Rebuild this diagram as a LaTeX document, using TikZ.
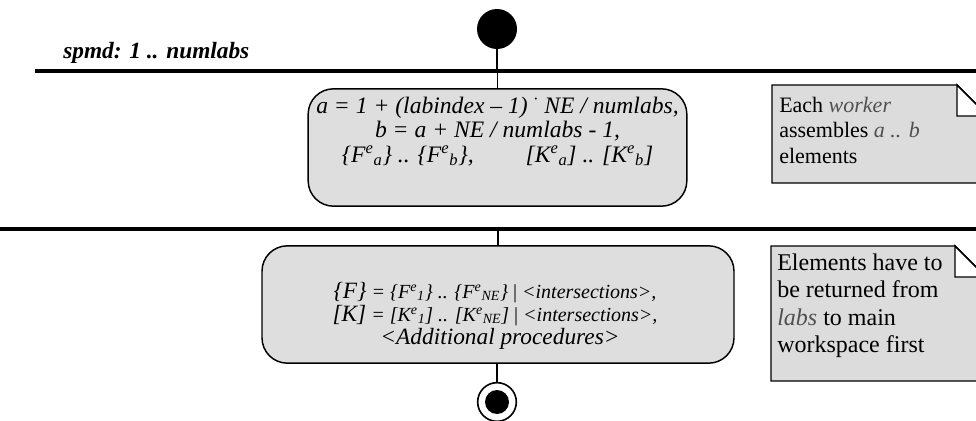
\documentclass[tikz,border=0pt]{standalone}
\usepackage{fontspec}
\setmainfont{Liberation Serif}
\definecolor{fillgray}{HTML}{DEDEDE}
\definecolor{notegray}{HTML}{DCDCDC}
\definecolor{softtext}{HTML}{505050}
\newcommand{\eS}[2]{#1\textsuperscript{e}\textsubscript{#2}}

\begin{document}
\begin{tikzpicture}[x=0.75pt,y=-0.75pt,
  bar/.style={line width=2.3pt},
  flow/.style={line width=1.1pt},
  action/.style={draw, line width=1.1pt, fill=fillgray, rounded corners=19pt,
                 inner sep=0pt},
  actionline/.style={anchor=base, inner sep=0pt, font=\fontsize{17.7}{20}\selectfont\itshape},
  mergeline/.style={anchor=base, inner sep=0pt, font=\fontsize{15}{17}\selectfont\itshape},
  note/.style={draw, line width=1.1pt, fill=notegray},
  notetext/.style={align=left, anchor=north west, inner sep=0pt},
]
\useasboundingbox (0,0) rectangle (976,421);

% swimlane bars
\coordinate (barA-l) at (35,71);
\coordinate (barA-r) at (980,71);
\coordinate (barB-l) at (0,229);
\coordinate (barB-r) at (980,229);
\draw[bar] (barA-l) -- (barA-r);
\draw[bar] (barB-l) -- (barB-r);
\node[anchor=base west, inner sep=0pt, font=\fontsize{17.5}{19}\selectfont\bfseries\itshape]
  (lane) at (63,58) {spmd: 1 .. numlabs};

% initial node
\node[circle, fill=black, minimum size=30pt, inner sep=0pt] (start) at (497,29) {};

% first action: index range of the local elements
\node[action, minimum width=284pt, minimum height=88pt] (assemble) at (497.5,147.5) {};
\node[actionline] (assemble-1) at (497.5,113)
  {a = 1 + (labindex -- 1) \textsuperscript{·} NE / numlabs,};
\node[actionline] (assemble-2) at (497.5,137.5)
  {b = a + NE / numlabs - 1,};
\node[actionline] (assemble-3) at (497.5,162)
  {\{\eS{F}{a}\} .. \{\eS{F}{b}\},\hspace{2.2em}[\eS{K}{a}] .. [\eS{K}{b}]};

% second action: global assembly
\node[action, minimum width=354pt, minimum height=88pt] (merge) at (498,304.5) {};
\node[mergeline] (merge-1) at (495,298)
  {{\fontsize{17.5}{20}\selectfont\{F\}} = \{\eS{F}{1}\} .. \{\eS{F}{NE}\} \textup{|} <intersections>,};
\node[mergeline] (merge-2) at (495,321)
  {{\fontsize{17.5}{20}\selectfont[K]} = [\eS{K}{1}] .. [\eS{K}{NE}] \textup{|} <intersections>,};
\node[mergeline, font=\fontsize{17.5}{20}\selectfont\itshape] (merge-3) at (500,344)
  {<Additional procedures>};

% final node
\node[circle, draw, line width=1.2pt, minimum size=29pt, inner sep=0pt] (final) at (497,402) {};
\fill (final.center) circle (12);

% control flow
\draw[flow] (start) -- (start |- barA-l);
\draw[flow] (assemble.north |- barA-l) -- (assemble.north);
\draw[flow] (merge.north |- barB-l) -- (merge.north);
\draw[flow] (merge.south -| final) -- (final);

% notes with folded corners
\draw[note] (772,85) -- (957,85) -- (988,116) -- (988,183) -- (772,183) -- cycle;
\draw[note, fill=white] (957,85) -- (957,116) -- (988,116) -- cycle;
\node[notetext, font=\fontsize{16.5}{19}\selectfont] (noteA) at (779,97)
  {Each {\itshape\color{softtext}worker}\\
   assembles {\itshape\color{softtext}a .. b}\\
   elements};

\draw[note] (771,246) -- (955,246) -- (986,277) -- (986,381) -- (771,381) -- cycle;
\draw[note, fill=white] (955,246) -- (955,277) -- (986,277) -- cycle;
\node[notetext, font=\fontsize{18}{20.3}\selectfont] (noteB) at (777,254)
  {Elements have to\\
   be returned from\\
   {\itshape\color{softtext}labs} to main\\
   workspace first};
\end{tikzpicture}
\end{document}
